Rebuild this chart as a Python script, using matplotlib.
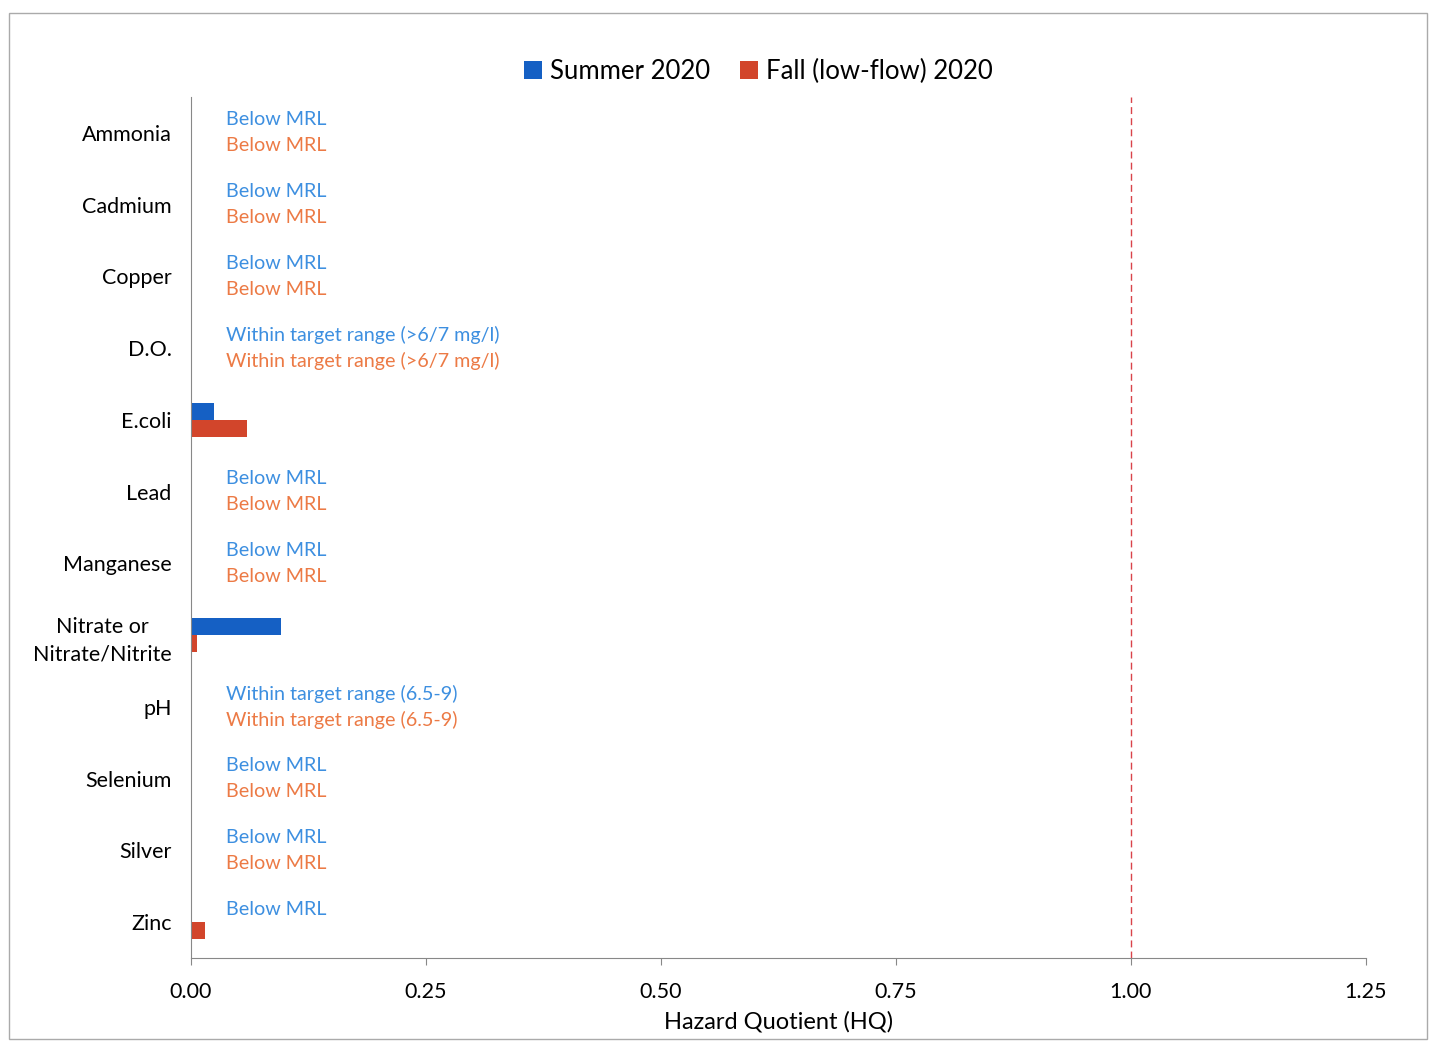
import matplotlib.pyplot as plt
import numpy as np
from matplotlib.patches import Rectangle

plt.rcParams['font.family'] = ['Lato', 'DejaVu Sans']

# data
categories = ['Ammonia', 'Cadmium', 'Copper', 'D.O.', 'E.coli', 'Lead', 'Manganese',
              'Nitrate or\nNitrate/Nitrite', 'pH', 'Selenium', 'Silver', 'Zinc']
summer_hq = [0, 0, 0, 0, 0.024, 0, 0, 0.096, 0, 0, 0, 0]
fall_hq = [0, 0, 0, 0, 0.060, 0, 0, 0.006, 0, 0, 0, 0.015]
summer_notes = ['Below MRL', 'Below MRL', 'Below MRL', 'Within target range (>6/7 mg/l)', '',
                'Below MRL', 'Below MRL', '', 'Within target range (6.5-9)', 'Below MRL',
                'Below MRL', 'Below MRL']
fall_notes = ['Below MRL', 'Below MRL', 'Below MRL', 'Within target range (>6/7 mg/l)', '',
              'Below MRL', 'Below MRL', '', 'Within target range (6.5-9)', 'Below MRL',
              'Below MRL', '']
xticks = [0, 0.25, 0.5, 0.75, 1.0, 1.25]

blue = '#1560c4'
red = '#d2452b'
blue_txt = '#3d8fe0'
red_txt = '#ec7a45'

fig = plt.figure(figsize=(14.3, 10.43), dpi=100)
ax = fig.add_axes([0.1336, 0.0815, 0.8214, 0.8255])

y = np.arange(len(categories))
h = 0.23
ax.barh(y - 0.12, summer_hq, height=h, color=blue, label='Summer 2020')
ax.barh(y + 0.12, fall_hq, height=h, color=red, label='Fall (low-flow) 2020')

for i in range(len(categories)):
    if summer_notes[i]:
        ax.text(0.037, y[i] - 0.18, summer_notes[i], color=blue_txt, fontsize=14.2,
                va='center', ha='left')
    if fall_notes[i]:
        ax.text(0.037, y[i] + 0.18, fall_notes[i], color=red_txt, fontsize=14.2,
                va='center', ha='left')

ax.axvline(1.0, color='#d9434a', lw=1, ls=(0, (5, 3)))

ax.set_xlim(0, 1.25)
ax.set_ylim(len(categories) - 0.5, -0.5)
ax.set_xticks(xticks)
ax.set_xticklabels(['%.2f' % v for v in xticks], fontsize=15.5)
ax.set_yticks(y)
ax.set_yticklabels(categories, fontsize=15.5, ha='right', multialignment='center',
                   linespacing=1.45)
ax.tick_params(axis='y', length=0, pad=14)
ax.tick_params(axis='x', length=5, color='#888888', pad=12)
ax.set_xlabel('Hazard Quotient (HQ)', fontsize=17, labelpad=7)
for s in ['top', 'right']:
    ax.spines[s].set_visible(False)
for s in ['left', 'bottom']:
    ax.spines[s].set_color('#888888')

ax.legend(loc='lower center', bbox_to_anchor=(0.483, 1.0), ncol=2, frameon=False,
          fontsize=18.5, handlelength=0.7, handleheight=0.7, handletextpad=0.3,
          columnspacing=1.2, borderaxespad=0.1)

fig.patches.append(Rectangle((0.006, 0.004), 0.992, 0.984, transform=fig.transFigure,
                             fill=False, edgecolor='#aaaaaa', lw=1))

fig.savefig('out.png', dpi=100)
